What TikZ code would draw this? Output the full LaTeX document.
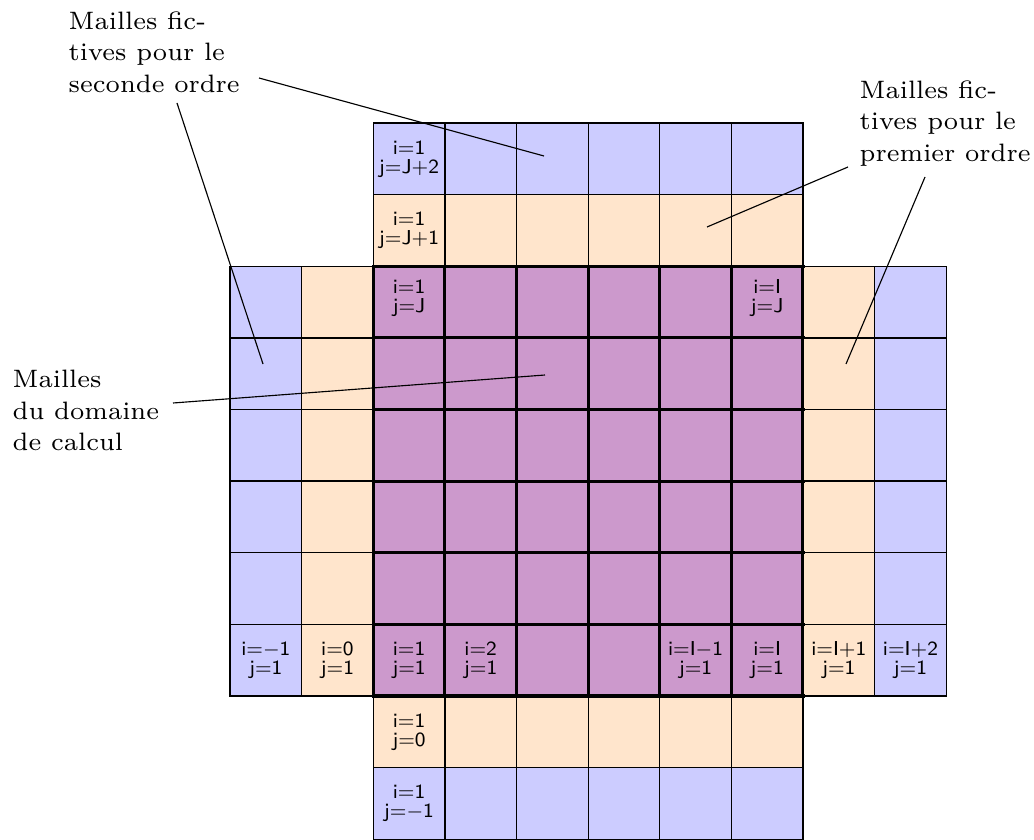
\documentclass[tikz,border=0pt]{standalone}
\definecolor{cellblue}{RGB}{204,204,255}
\definecolor{cellorange}{RGB}{255,229,204}
\definecolor{cellpurple}{RGB}{204,153,204}
\newcommand{\cellidx}[2]{i=#1\\j=#2}
\tikzset{
  ghostcellb/.style={fill=cellblue, draw=black, line width=0.5pt},
  ghostcella/.style={fill=cellorange, draw=black, line width=0.5pt},
  domcell/.style={fill=cellpurple, draw=black, line width=0.5pt},
  domgrid/.style={line width=1.2pt, line cap=rect},
  captext/.style={anchor=north west, inner sep=0pt, align=left, scale=1.4286, transform shape, font=\fontsize{7}{8.75}\selectfont},
  idxtext/.style={inner sep=0pt, align=center, font=\sffamily\fontsize{8}{7.6}\selectfont},
  leaderline/.style={line width=0.45pt, draw=black}
}
\begin{document}
\begin{tikzpicture}[x=0.013966cm, y=-0.013966cm]
\useasboundingbox (0,0) rectangle (1034,840);
\begin{scope}[shift={(230,123)}, x=1cm, y=-1cm]
  \foreach \c in {2,...,7} {
    \path[ghostcellb] (\c,0) rectangle ++(1,1);
    \path[ghostcellb] (\c,9) rectangle ++(1,1);
    \path[ghostcella] (\c,1) rectangle ++(1,1);
    \path[ghostcella] (\c,8) rectangle ++(1,1);
  }
  \foreach \r in {2,...,7} {
    \path[ghostcellb] (0,\r) rectangle ++(1,1);
    \path[ghostcellb] (9,\r) rectangle ++(1,1);
    \path[ghostcella] (1,\r) rectangle ++(1,1);
    \path[ghostcella] (8,\r) rectangle ++(1,1);
  }
  \foreach \c in {2,...,7} \foreach \r in {2,...,7} {
    \path[domcell] (\c,\r) rectangle ++(1,1);
  }
  \draw[domgrid] (2,2) grid (8,8);
  \node[idxtext] (l20) at (2.5,0.5) {\cellidx{1}{J+2}};
  \node[idxtext] (l21) at (2.5,1.5) {\cellidx{1}{J+1}};
  \node[idxtext] (l22) at (2.5,2.45) {\cellidx{1}{J}};
  \node[idxtext] (l72) at (7.5,2.45) {\cellidx{I}{J}};
  \node[idxtext] (l07) at (0.5,7.5) {\cellidx{$-$1}{1}};
  \node[idxtext] (l17) at (1.5,7.5) {\cellidx{0}{1}};
  \node[idxtext] (l27) at (2.5,7.5) {\cellidx{1}{1}};
  \node[idxtext] (l37) at (3.5,7.5) {\cellidx{2}{1}};
  \node[idxtext] (l67) at (6.5,7.5) {\cellidx{I$-$1}{1}};
  \node[idxtext] (l77) at (7.5,7.5) {\cellidx{I}{1}};
  \node[idxtext] (l87) at (8.5,7.5) {\cellidx{I+1}{1}};
  \node[idxtext] (l97) at (9.5,7.5) {\cellidx{I+2}{1}};
  \node[idxtext] (l28) at (2.5,8.5) {\cellidx{1}{0}};
  \node[idxtext] (l29) at (2.5,9.5) {\cellidx{1}{$-$1}};
\end{scope}
\node[captext] (second) at (68,10.8) {Mailles fic-\\tives pour le\\seconde ordre};
\node[captext] (first) at (859,79.8) {Mailles fic-\\tives pour le\\premier ordre};
\node[captext] (calc) at (12,369.8) {Mailles\\du domaine\\de calcul};
\coordinate (s1) at (259,78);  \coordinate (e1) at (544,156);
\coordinate (s2) at (177,103); \coordinate (e2) at (263,364);
\coordinate (s3) at (848,167); \coordinate (e3) at (707,227);
\coordinate (s4) at (925,177); \coordinate (e4) at (846,364);
\coordinate (s5) at (173,403); \coordinate (e5) at (545,375);
\draw[leaderline] (s1) -- (e1);
\draw[leaderline] (s2) -- (e2);
\draw[leaderline] (s3) -- (e3);
\draw[leaderline] (s4) -- (e4);
\draw[leaderline] (s5) -- (e5);
\end{tikzpicture}
\end{document}
